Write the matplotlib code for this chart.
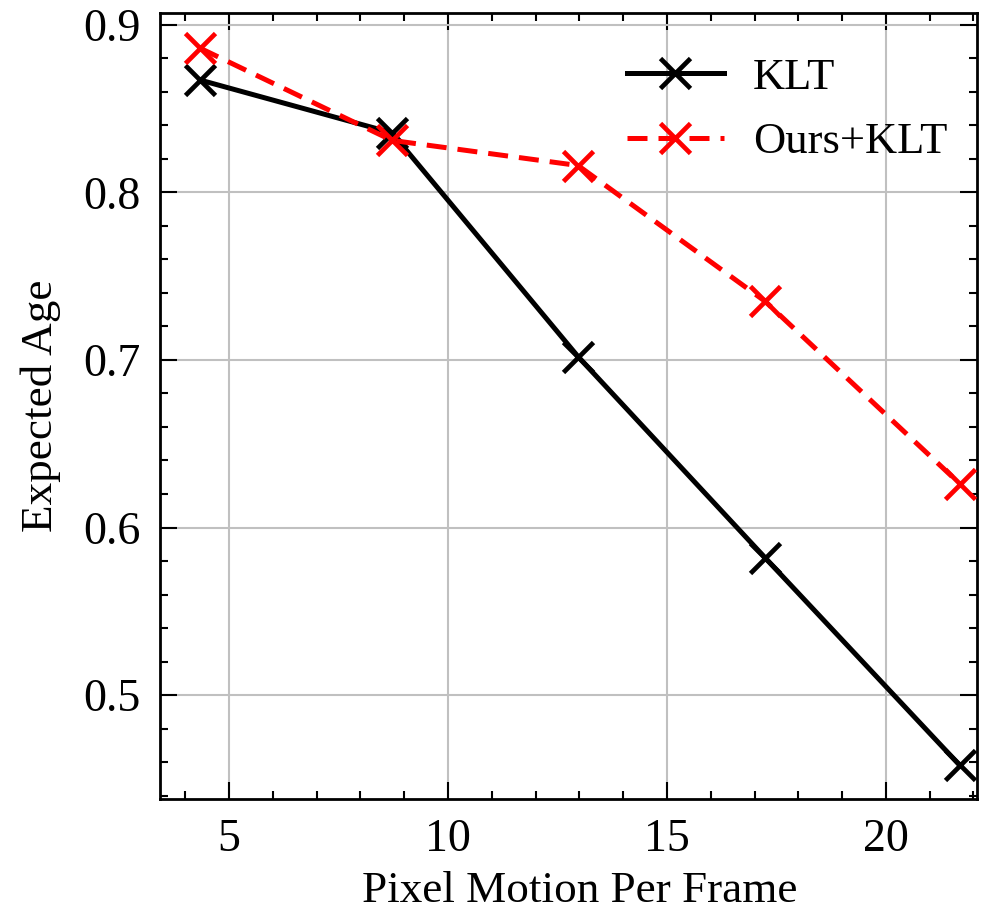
import matplotlib
matplotlib.use("Agg")
import matplotlib.pyplot as plt
from matplotlib.ticker import MultipleLocator

x_motion = [4.34, 8.72, 12.97, 17.24, 21.69]
klt = [0.867, 0.8355, 0.702, 0.582, 0.458]
ours_klt = [0.886, 0.831, 0.816, 0.735, 0.626]

plt.rcParams['font.family'] = ['Liberation Serif', 'DejaVu Serif']
plt.rcParams['mathtext.fontset'] = 'stix'

fig = plt.figure(figsize=(9.86, 9.19), dpi=100)
ax = fig.add_axes([160/986, 1-799/919, (977-160)/986, (799-13)/919])

ax.plot(x_motion, klt, color='black', linestyle='-', linewidth=3.6,
        marker='x', markersize=22, markeredgewidth=3.4, label='KLT', zorder=3)
ax.plot(x_motion, ours_klt, color='red', linestyle=(0, (4.0, 2.2)), linewidth=3.6,
        marker='x', markersize=22, markeredgewidth=3.4, label='Ours+KLT', zorder=3)

ax.set_xlim(3.425, 22.08)
ax.set_ylim(0.438, 0.907)
ax.xaxis.set_major_locator(MultipleLocator(5))
ax.xaxis.set_minor_locator(MultipleLocator(1))
ax.yaxis.set_major_locator(MultipleLocator(0.1))
ax.yaxis.set_minor_locator(MultipleLocator(0.02))

ax.tick_params(which='both', direction='in', top=True, right=True, labelsize=33, width=1.5)
ax.tick_params(which='major', length=12, pad=14)
ax.tick_params(which='minor', length=6)
for s in ax.spines.values():
    s.set_linewidth(2)

ax.grid(True, which='major', color='#c0c0c0', linewidth=1.5, zorder=0)
ax.set_axisbelow(True)

ax.set_xlabel('Pixel Motion Per Frame', fontsize=32.5)
ax.set_ylabel('Expected Age', fontsize=32.5, labelpad=16)
ax.xaxis.set_label_coords(0.5 + 11/817, -72/786)

ax.legend(loc='upper right', bbox_to_anchor=(1 + 15/817, 1), frameon=False,
          fontsize=32, handlelength=2.2, borderaxespad=0.6, labelspacing=0.55,
          handletextpad=0.65)

fig.savefig('out.png', dpi=100)
